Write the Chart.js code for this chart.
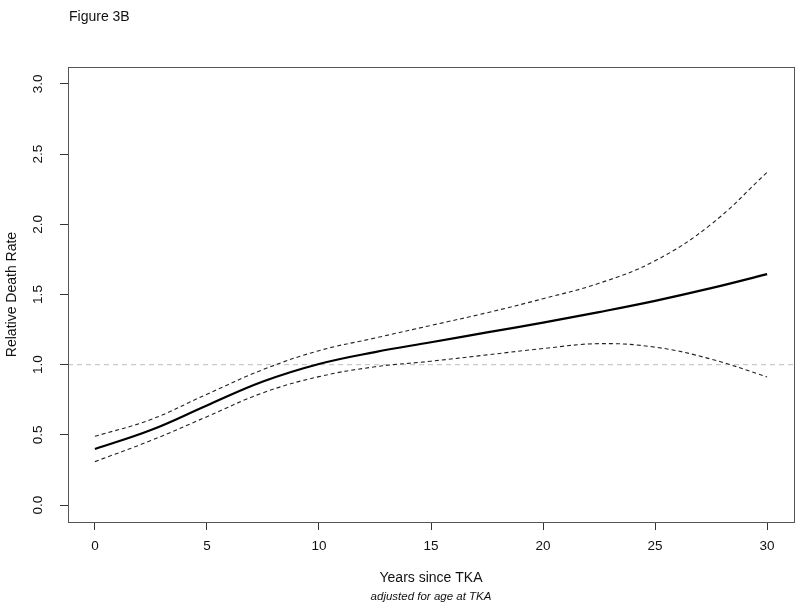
<!DOCTYPE html>
<html>
<head>
<meta charset="utf-8">
<script src="https://cdn.jsdelivr.net/npm/chart.js@4/dist/chart.umd.min.js"></script>
<style>
  html, body { margin: 0; padding: 0; background: #fff; }
</style>
</head>
<body>
<canvas id="fig3b" width="800" height="608"></canvas>
<script>
// values (years since TKA -> relative death rate)
var years    = [0, 2.5, 5, 7.5, 10, 12.5, 15, 17.5, 20, 22.5, 25, 27.5, 30];
var estimate = [0.40, 0.535, 0.71, 0.88, 1.005, 1.09, 1.16, 1.23, 1.30, 1.375, 1.455, 1.545, 1.645];
var upperCI  = [0.49, 0.61, 0.79, 0.965, 1.10, 1.19, 1.28, 1.37, 1.47, 1.58, 1.74, 2.00, 2.37];
var lowerCI  = [0.31, 0.46, 0.63, 0.80, 0.915, 0.985, 1.025, 1.07, 1.115, 1.15, 1.125, 1.04, 0.913];

var xTicks = [0, 5, 10, 15, 20, 25, 30];
var yTicks = [0, 0.5, 1, 1.5, 2, 2.5, 3];
var refLevel = 1;

// R style axis range: 4% extension on each side
var xMin = -1.2, xMax = 31.2;
var yMin = -0.12, yMax = 3.12;

function pts(ys) {
  return years.map(function(x, i) { return {x: x, y: ys[i]}; });
}

var FONT = "'Liberation Sans', Arial, Helvetica, sans-serif";

var rPlot = {
  id: 'rPlot',
  afterDraw: function(chart) {
    var ctx = chart.ctx, a = chart.chartArea;
    ctx.save();
    // box round the plot region
    ctx.strokeStyle = '#555';
    ctx.lineWidth = 1;
    ctx.strokeRect(Math.round(a.left) + 0.5, Math.round(a.top) + 0.5,
                   Math.round(a.right - a.left), Math.round(a.bottom - a.top));
    ctx.fillStyle = '#111';
    ctx.textBaseline = 'middle';
    // figure label
    ctx.font = '14px ' + FONT;
    ctx.textAlign = 'left';
    ctx.fillText('Figure 3B', 69, 17);
    // x title + subtitle
    var cx = (a.left + a.right) / 2;
    ctx.textAlign = 'center';
    ctx.fillText('Years since TKA', cx, 578);
    ctx.font = 'italic 11.5px ' + FONT;
    ctx.fillText('adjusted for age at TKA', cx, 597);
    // y title
    ctx.font = '14px ' + FONT;
    ctx.translate(12, (a.top + a.bottom) / 2);
    ctx.rotate(-Math.PI / 2);
    ctx.fillText('Relative Death Rate', 0, 0);
    ctx.restore();
  }
};

new Chart(document.getElementById('fig3b'), {
  type: 'line',
  data: {
    datasets: [
      {
        data: [{x: xMin, y: refLevel}, {x: xMax, y: refLevel}],
        borderColor: '#bdbdbd', borderWidth: 1, borderDash: [5, 4],
        pointRadius: 0, order: 4
      },
      {
        data: pts(upperCI),
        borderColor: '#222', borderWidth: 1.1, borderDash: [4, 3],
        pointRadius: 0, tension: 0.4, order: 2
      },
      {
        data: pts(lowerCI),
        borderColor: '#222', borderWidth: 1.1, borderDash: [4, 3],
        pointRadius: 0, tension: 0.4, order: 2
      },
      {
        data: pts(estimate),
        borderColor: '#000', borderWidth: 2.2,
        pointRadius: 0, tension: 0.4, order: 1
      }
    ]
  },
  options: {
    responsive: false,
    animation: false,
    devicePixelRatio: 1,
    layout: { padding: { top: 67, right: 6, left: 0, bottom: 0 } },
    plugins: { legend: { display: false }, tooltip: { enabled: false }, title: { display: false } },
    scales: {
      x: {
        type: 'linear', min: xMin, max: xMax,
        afterBuildTicks: function(s) { s.ticks = xTicks.map(function(v) { return {value: v}; }); },
        afterFit: function(s) { s.height = 86; },
        grid: { drawOnChartArea: false, drawTicks: true, tickLength: 8, color: '#333' },
        border: { display: false },
        ticks: {
          autoSkip: false, maxRotation: 0, padding: 8, color: '#111',
          font: { family: FONT, size: 13.5 }
        }
      },
      y: {
        type: 'linear', min: yMin, max: yMax,
        afterBuildTicks: function(s) { s.ticks = yTicks.map(function(v) { return {value: v}; }); },
        afterFit: function(s) { s.width = 68; },
        grid: { drawOnChartArea: false, drawTicks: true, tickLength: 8, color: '#333' },
        border: { display: false },
        ticks: {
          autoSkip: false, minRotation: 90, maxRotation: 90, crossAlign: 'center', padding: 12,
          color: '#111', font: { family: FONT, size: 13.5 },
          callback: function(v) { return v.toFixed(1); }
        }
      }
    }
  },
  plugins: [rPlot]
});
</script>
</body>
</html>
